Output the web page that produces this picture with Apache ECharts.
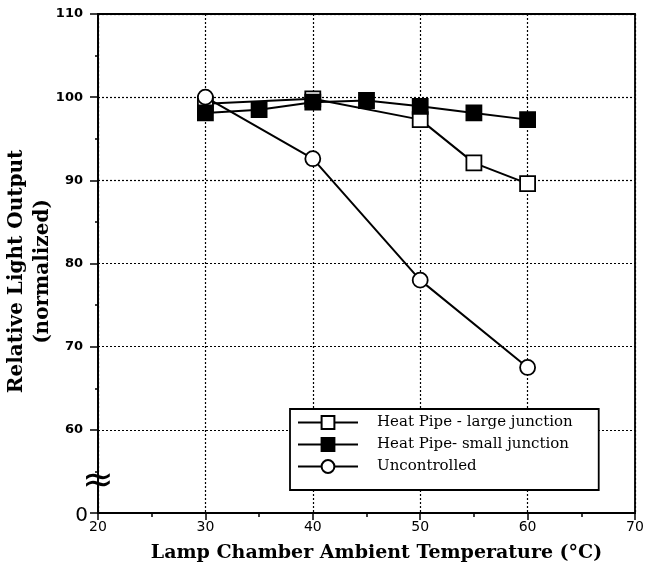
<!DOCTYPE html>
<html>
<head>
<meta charset="utf-8">
<script src="https://cdn.jsdelivr.net/npm/echarts@6/dist/echarts.min.js"></script>
<style>
  html, body { margin: 0; padding: 0; background: #fff; }
  #chart { width: 647px; height: 576px; }
</style>
</head>
<body>
<div id="chart"></div>
<script>
// data
const seriesNames = ['Heat Pipe - large junction', 'Heat Pipe- small junction', 'Uncontrolled'];
const largeJunction = [[30, 99.2], [40, 99.8], [50, 97.3], [55, 92.1], [60, 89.6]];
const smallJunction = [[30, 98.1], [35, 98.5], [40, 99.4], [45, 99.6], [50, 98.9], [55, 98.1], [60, 97.3]];
const uncontrolled = [[30, 100], [40, 92.6], [50, 78.0], [60, 67.5]];
const yTicks = [50, 60, 70, 80, 90, 100, 110]; // 50 stands in for the broken "0"

var dom = document.getElementById('chart');
var myChart = echarts.init(dom, null, { renderer: 'canvas' });

const serifFont = '"DejaVu Serif", serif';
const sansFont = '"DejaVu Sans", sans-serif';

function lineSeries(name, data, symbol, fill) {
    return {
        name: name,
        type: 'line',
        data: data,
        symbol: symbol,
        symbolSize: 15,
        lineStyle: { color: '#000', width: 2 },
        itemStyle: { color: fill, borderColor: '#000', borderWidth: 1.8 },
        emphasis: { disabled: true },
        animation: false
    };
}

const option = {
    backgroundColor: '#fff',
    animation: false,
    grid: {
        left: 98,
        right: 12,
        top: 14,
        bottom: 63,
        outerBoundsMode: 'none',
        show: true,
        borderColor: '#000',
        borderWidth: 1.8,
        backgroundColor: 'transparent'
    },
    xAxis: {
        type: 'value',
        min: 20,
        max: 70,
        interval: 10,
        name: 'Lamp Chamber Ambient Temperature (°C)',
        nameLocation: 'middle',
        nameGap: 31,
        nameMoveOverlap: false,
        nameTextStyle: { fontFamily: serifFont, fontWeight: 'bold', fontSize: 19, color: '#000', padding: [0, 0, 0, 20] },
        axisLine: { lineStyle: { color: '#000', width: 1.8 } },
        axisTick: { inside: false, length: 7, lineStyle: { color: '#000', width: 1.5 } },
        minorTick: { show: true, splitNumber: 2, length: 4, lineStyle: { color: '#000', width: 1.5 } },
        axisLabel: { fontFamily: sansFont, fontSize: 14, color: '#000', margin: 7 },
        splitLine: { show: true, lineStyle: { color: '#000', type: [2, 2], width: 1.2 } }
    },
    yAxis: {
        type: 'value',
        min: 50,
        max: 110,
        interval: 10,
        name: 'Relative Light Output\n(normalized)',
        nameLocation: 'middle',
        nameGap: 42,
        nameMoveOverlap: false,
        nameRotate: 90,
        nameTextStyle: { fontFamily: serifFont, fontWeight: 'bold', fontSize: 20, color: '#000', lineHeight: 26, padding: [0, 16, 0, 0] },
        axisLine: { lineStyle: { color: '#000', width: 1.8 } },
        axisTick: { inside: false, length: 8, lineStyle: { color: '#000', width: 1.5 } },
        minorTick: { show: true, splitNumber: 2, length: 3, lineStyle: { color: '#000', width: 1.5 } },
        axisLabel: {
            color: '#000',
            margin: 10,
            formatter: function (v) { return v === yTicks[0] ? '{z|0}' : '{n|' + v + '}'; },
            rich: {
                n: { fontFamily: sansFont, fontSize: 13, fontWeight: 'bold', color: '#000', padding: [0, 5, 0, 0] },
                z: { fontFamily: sansFont, fontSize: 20, fontWeight: 'normal', color: '#000', padding: [6, 0, 0, 0] }
            }
        },
        splitLine: { show: true, lineStyle: { color: '#000', type: [2, 2], width: 1.2 } }
    },
    legend: {
        data: seriesNames,
        orient: 'vertical',
        left: 290,
        top: 409,
        itemWidth: 60,
        itemHeight: 16,
        itemGap: 7,
        padding: [6, 26, 16, 7],
        backgroundColor: '#fff',
        borderColor: '#000',
        borderWidth: 1.8,
        borderRadius: 0,
        textStyle: { fontFamily: serifFont, fontSize: 15, color: '#000', padding: [0, 0, 0, 14] },
        selectedMode: false
    },
    series: [
        lineSeries(seriesNames[0], largeJunction, 'rect', '#fff'),
        lineSeries(seriesNames[1], smallJunction, 'rect', '#000'),
        lineSeries(seriesNames[2], uncontrolled, 'circle', '#fff')
    ]
};

myChart.setOption(option);

// axis break mark on the y axis between 0 and 60
var brk = myChart.convertToPixel({ gridIndex: 0 }, [20, 53.7]);
myChart.setOption({
    graphic: [{
        type: 'text',
        x: brk[0],
        y: brk[1],
        style: {
            text: '≈',
            fontSize: 38,
            fontFamily: '"DejaVu Sans", sans-serif',
            fill: '#000',
            align: 'center',
            verticalAlign: 'middle'
        },
        z: 100
    }]
});

window.addEventListener('resize', myChart.resize);
</script>
</body>
</html>
